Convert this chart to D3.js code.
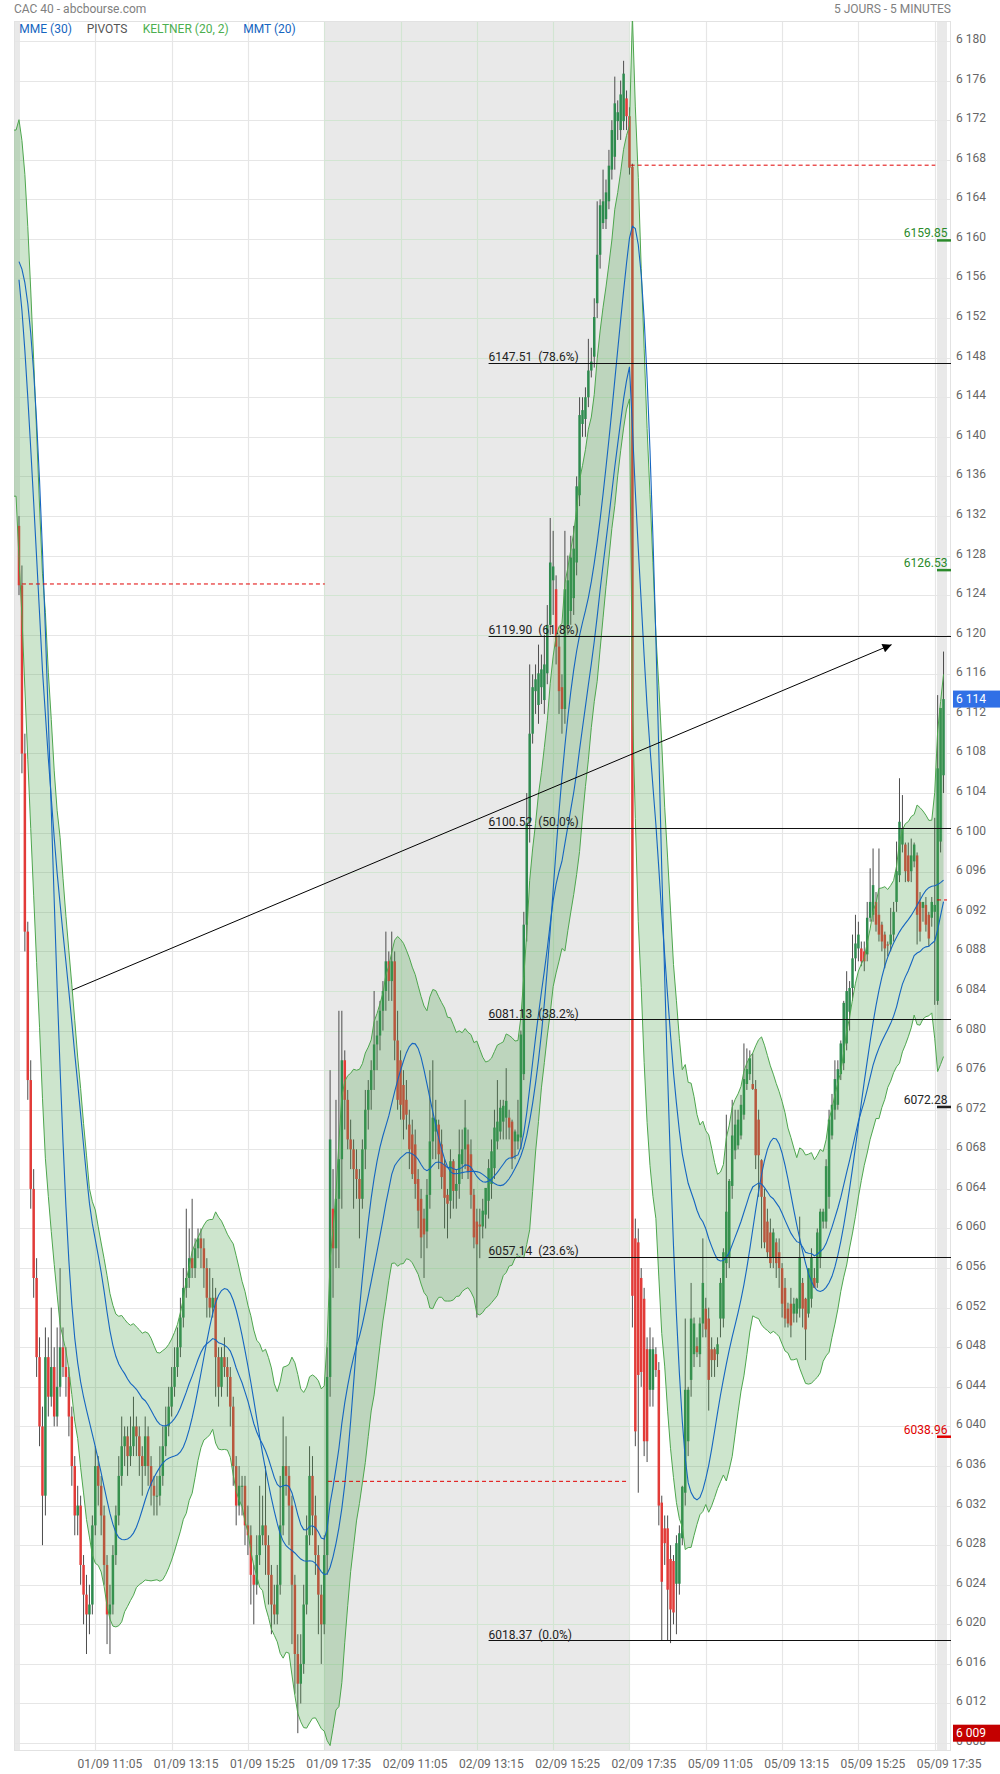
<!DOCTYPE html>
<html><head><meta charset="utf-8">
<script src="https://cdn.jsdelivr.net/npm/d3@7"></script>
<style>
body{margin:0;background:#fff;}
svg text{font-family:Roboto,"Noto Sans",sans-serif;}
</style></head><body>
<svg id="chart" width="1000" height="1774"></svg>
<script>
// ---------- DATA ----------
// [open, high, low, close] per 5-minute candle
const day1 = [
[6131,6132,6124,6125],[6125,6127,6106,6108],[6108,6110,6088,6090],[6090,6091,6073,6075],[6075,6077,6062,6064],
[6064,6066,6053,6055],[6055,6057,6045,6047],[6047,6049,6038,6040],[6040,6042,6028,6033],[6033,6050,6031,6047],
[6047,6049,6041,6043],[6043,6052,6042,6046],[6046,6048,6040,6041],[6041,6050,6040,6044],[6044,6056,6043,6048],
[6048,6050,6045,6046],[6046,6048,6043,6045],[6045,6046,6039,6041],[6041,6042,6034,6036],[6036,6037,6029,6031],
[6031,6034,6029,6032],[6032,6033,6024,6026],[6026,6027,6020,6023],[6023,6025,6017,6021],[6021,6024,6019,6022],
[6022,6031,6021,6030],[6030,6038,6029,6036],[6036,6037,6032,6034],[6034,6035,6029,6031],[6031,6032,6024,6026],
[6026,6027,6018,6021],[6021,6024,6017,6022],[6022,6028,6021,6027],[6027,6032,6026,6031],[6031,6037,6030,6035],
[6035,6041,6034,6038],[6038,6040,6036,6039],[6039,6040,6035,6037],[6037,6041,6036,6038],[6038,6043,6037,6040],
[6040,6041,6037,6039],[6039,6040,6035,6037],[6037,6038,6033,6036],[6036,6041,6035,6039],[6039,6040,6034,6036],
[6036,6037,6032,6034],[6034,6035,6031,6033],[6033,6035,6031,6033],[6033,6038,6032,6035],[6035,6040,6034,6038],
[6038,6042,6037,6040],[6040,6044,6039,6042],[6042,6046,6041,6044],[6044,6048,6043,6046],[6046,6050,6045,6048],
[6048,6053,6047,6051],[6051,6056,6050,6054],[6054,6062,6053,6055],[6055,6060,6054,6057],[6057,6063,6055,6056],
[6056,6059,6055,6058],[6058,6060,6057,6059],[6059,6060,6056,6058],[6058,6059,6054,6056],[6056,6057,6051,6053],
[6053,6056,6051,6052],[6052,6055,6051,6053],[6053,6054,6043,6047],[6047,6048,6042,6044],[6044,6048,6043,6047],
[6047,6049,6045,6046],[6046,6047,6043,6045],[6045,6046,6040,6042],[6042,6043,6034,6036],[6036,6037,6030,6032],
[6032,6036,6031,6034],[6034,6035,6031,6034],[6034,6035,6028,6030],[6030,6032,6027,6029],[6029,6030,6022,6025],
[6025,6026,6020,6024],[6024,6029,6023,6027],[6027,6034,6026,6029],[6029,6033,6028,6030],[6030,6036,6025,6028],
[6028,6029,6022,6025],[6025,6026,6019,6022],[6022,6024,6020,6021],[6021,6026,6020,6024],[6024,6035,6023,6030],
[6030,6041,6029,6036],[6036,6039,6033,6035],[6035,6036,6028,6032],[6032,6033,6018,6024],[6024,6025,6013,6017],
[6017,6019,6009,6014],[6014,6019,6012,6016],[6016,6024,6015,6022],[6022,6031,6021,6029],[6029,6038,6028,6035],
[6035,6037,6029,6031],[6031,6033,6025,6027],[6027,6028,6019,6023],[6023,6024,6016,6020],[6020,6029,6019,6027]
];
const day2 = [
[6027,6048,6025,6045],[6045,6076,6043,6069],[6062,6066,6053,6058],[6058,6073,6056,6063],[6063,6082,6056,6067],
[6067,6082,6062,6077],[6077,6078,6070,6073],[6073,6074,6068,6069],[6069,6071,6066,6068],[6068,6069,6062,6066],
[6066,6068,6063,6065],[6065,6066,6059,6063],[6063,6069,6062,6068],[6068,6074,6066,6072],[6072,6075,6070,6074],
[6074,6077,6072,6076],[6076,6084,6074,6078.6],[6078.6,6081,6076,6079.5],[6079.5,6083,6078,6082],[6082,6085,6080,6084],
[6084,6090,6082,6087],[6087,6088,6083,6085],[6085,6090,6083,6087],[6087,6088,6077,6079],[6079,6082,6072,6073],
[6077,6078,6071,6072.5],[6074.5,6076,6069,6071],[6073,6075,6070,6071.5],[6070.5,6072,6066,6068],[6069.5,6071,6065,6065.5],
[6068.5,6070,6063,6064.5],[6065,6066,6060,6061.8],[6063,6064,6057,6059.1],[6061,6062,6055,6059.4],[6059.7,6065,6058,6063.4],
[6063.4,6076,6062,6068.8],[6068.8,6077,6067,6071.2],[6069.8,6073,6067,6071],[6070.5,6071,6066,6067.5],[6068.5,6070,6064,6065.2],
[6066.5,6067,6060,6063.1],[6063.4,6064,6059,6062.5],[6062.8,6068,6061,6066.8],[6066.8,6067,6062,6063.8],[6063.8,6066,6062,6064.5],
[6064.5,6070,6063,6067.5],[6066.5,6070,6065,6068],[6068,6073,6066,6070.2],[6068.5,6070,6065,6065.8],[6067.5,6069,6062,6063.4],
[6063.4,6064,6058,6059.1],[6060.7,6062,6051,6058.4],[6060.4,6062,6057,6060.2],[6060.2,6063,6059,6061.8],[6061.4,6064,6060,6064.1],
[6062.8,6067,6061,6066.1],[6064.5,6069,6063,6067.8],[6066.1,6072,6065,6070.2],[6068.8,6075,6068,6070.8],[6069.8,6073,6069,6072.2],
[6070.8,6073,6069,6072.4],[6071.2,6076.2,6069,6072.9],[6071.2,6072,6069,6070.2],[6070.8,6071,6066,6067.1],[6068.8,6070,6067,6069.8],
[6068.8,6073,6068,6069.5],[6069.2,6080,6068,6079.6],[6075.6,6092,6075,6090.7],[6090.7,6104,6089,6101],[6101,6117,6099,6110],
[6110,6116,6109,6114.7],[6114.3,6117,6112,6115.5],[6112.9,6119,6111,6116.1],[6114.7,6118,6113,6116.5],[6113.4,6120,6112,6117],
[6116.1,6123,6115,6121],[6121,6131.8,6120,6127.3],[6125.5,6130.5,6122,6126.9],[6124.6,6126,6117,6118.8],[6118.8,6120,6112,6114.3],
[6114.7,6116,6110,6112.5],[6112.5,6130.5,6111,6124.6],[6121,6128,6120,6125.5],[6122.4,6130,6121,6127.8],[6123.7,6131,6122,6128.7],
[6127.3,6136,6126,6135],[6134.1,6144,6133,6142.2],[6141.3,6144,6140,6142.7],[6141.8,6145,6140,6144],[6144,6149.9,6143,6146.7],
[6146.7,6149,6146,6147.6],[6148.1,6154,6147,6152.1],[6153.5,6163.8,6152,6158.4],[6158.4,6164,6157,6163.4],[6161.6,6167,6161,6163.8],
[6162,6166,6161,6164.7],[6163.8,6169,6163,6167.4],[6167,6172,6166,6171],[6168.3,6176.4,6167,6173.7],[6171.9,6174,6170,6172.8],
[6171,6176,6170,6174.6],[6171.9,6178,6171,6176.7],[6174.2,6175,6171,6172.4],[6172.4,6173.3,6166.5,6167.2]
];
const day3 = [
[6167.3,6167.6,6050,6053.2],[6059,6061,6038,6039.5],[6058.6,6060,6033.3,6045.2],[6055,6056,6044,6045.5],[6052.9,6054,6037,6038.5],
[6047.8,6049,6036.4,6038.5],[6043.7,6050,6042,6047.8],[6043.7,6049,6042,6047.8],[6047.3,6048,6045,6045.7],[6045.7,6046.5,6030,6032],
[6032.3,6033,6018.4,6024.3],[6029.7,6031,6026,6028.2],[6029.7,6031,6018.4,6023.5],[6026.6,6028,6018.1,6021.5],[6026.4,6027,6020,6021.2],
[6024.1,6029,6019,6028.2],[6024.1,6030,6023,6029.2],[6028.7,6034,6028,6033.9],[6033.3,6050.9,6032,6043.7],[6038.5,6044,6037,6043.7],
[6044.7,6054.5,6043,6050.9],[6047.3,6051,6046,6050.4],[6048.1,6049,6047,6047.5],[6047.3,6051,6046,6050.4],[6050.4,6059,6049,6054.5],
[6051.9,6053,6049,6049.8],[6050.9,6052,6041.6,6044.7],[6047.8,6049,6045,6046.7],[6047.8,6048,6045,6046.7],[6047.3,6049,6046,6048.3],
[6050.9,6055,6049,6054.5],[6050.9,6058,6050,6057.6],[6056.5,6071.5,6055,6061.7],[6057.1,6065,6056,6064.8],[6064.3,6073,6063,6069.4],
[6067.9,6072,6067,6070.5],[6068.4,6072,6068,6071],[6069.4,6073.5,6069,6072.5],[6071.5,6078.7,6071,6075.1],[6074.6,6078.2,6074,6076.1],
[6075.6,6078,6075,6077.2],[6074.6,6077.7,6074,6074.1],[6074.1,6075,6066,6067.4],[6071,6072,6063.2,6067.4],[6066.9,6067,6058,6063.2],
[6063.2,6064,6058,6058.6],[6060.7,6062,6057,6057.6],[6059.6,6061,6056,6056.5],[6057.1,6060,6056,6059.6],[6058.6,6059,6055,6056.5],
[6057.6,6059,6054,6056],[6056,6056.5,6051,6052.4],[6054,6055,6050,6050.9],[6051.9,6052.5,6050,6050.4],[6052.4,6054,6049,6050.2],
[6051.4,6053,6050.5,6052.4],[6051.4,6053,6050.5,6052.9],[6051.9,6061.2,6051,6057.1],[6054.5,6055,6050,6051.9],[6052.9,6053,6046.7,6049.8],
[6051.4,6056,6051,6056],[6052.9,6058,6052,6057.1],[6055,6056,6054,6054],[6054.5,6060,6054,6059.6],[6057.1,6062,6056,6061.7],
[6060.7,6062,6060,6061.7],[6060.7,6067,6060,6066.3],[6063.2,6072,6062,6071],[6069.4,6073.6,6069,6072.5],[6072,6077,6071,6075.1],
[6072.5,6077,6072,6076.1],[6075.6,6079,6075,6078.7],[6076.7,6083,6076,6082.8],[6078.7,6086,6078,6084],
[6081.9,6085,6080,6084.3],[6084.3,6089.7,6083,6087.3],[6087.3,6091.7,6086,6088.8],[6088.3,6091,6087,6089.7],[6088.3,6089,6086.5,6087],
[6088,6089,6086,6087],[6087.7,6093,6087,6091.4],[6091.4,6096.4,6091,6093],[6091.7,6098.4,6091,6094.7],[6093,6094,6090,6090.7],
[6091.7,6098.4,6089,6089.7],[6090.7,6091,6088,6089],[6089.7,6090,6086.3,6088.3],[6088.7,6089,6087.5,6088.6],[6088.7,6092.4,6088,6089.7],
[6089.7,6093,6089,6092],[6093,6099.1,6092,6096.1],[6095.7,6105.5,6095,6101.1],[6098.8,6103.8,6098,6100.4],[6098.8,6099,6095,6096.1],
[6097.7,6099,6095,6095.1],[6096.1,6099.4,6095,6097.7],[6097.1,6099,6096.5,6098.8],[6097.7,6098,6088.7,6091.7],[6093,6094,6089,6090],
[6092.4,6093,6091,6093],[6092.7,6093.5,6090,6090.7],[6091.7,6092,6088.5,6089.3],[6091.4,6093.5,6090.5,6093],[6092,6101.5,6082.6,6092.7],
[6083,6113.9,6082.6,6106.5],[6099.1,6112.6,6098,6112.6],[6105.8,6118.3,6104,6113.5]
];
// indicator state carried over from the previous session (read from the left edge)
const seedKeltnerUpper = 6171, seedKeltnerLower = 6134;
const seedMME = 6158, seedMMT = 6158;

const tickIndex = [26,52,78,104,130,156,182,208,234,260,286,312];
const tickLabels = ["01/09 11:05","01/09 13:15","01/09 15:25","01/09 17:35","02/09 11:05","02/09 13:15",
                    "02/09 15:25","02/09 17:35","05/09 11:05","05/09 13:15","05/09 15:25","05/09 17:35"];
const priceTicks = d3.range(6008, 6181, 4);

const fibLevels = [6147.51, 6119.90, 6100.52, 6081.13, 6057.14, 6018.37];
const fibPct = ["78.6%","61.8%","50.0%","38.2%","23.6%","0.0%"];
const fibStart = 160;

const pivotLevels = [6159.85, 6126.53, 6072.28, 6038.96];
const pivotColors = ["#2a8a2a","#2a8a2a","#222","#e00000"];
// daily pivot dashed segments [fromIndex, toIndex, level]
const dailyPivots = [[1,104.2,6125.13],[105.3,207.7,6034.45],[208.4,312.2,6167.45],[312.8,316.2,6093.2]];
// trend arrow [index, price]
const arrowFrom = [18.2, 6084.1], arrowTo = [297.3, 6119.0];
// shaded session areas [fromIndex, toIndex]
const shaded = [[-1.7,0.35],[104,208],[312.8,316.2]];

// ---------- BUILD ----------
const candles = [...day1, ...day2, ...day3].map((d,i)=>({i, o:d[0], h:d[1], l:d[2], c:d[3]}));

// Keltner (20,2): EMA20 of close +/- 2 * EMA20 of true range
const seedMid = (seedKeltnerUpper+seedKeltnerLower)/2, seedAtr = (seedKeltnerUpper-seedKeltnerLower)/4;
let mid = seedMid, atr = seedAtr, prevC = seedMid;
const kk = 2/21;
const kelt = [{i:-1.7, up:seedKeltnerUpper, lo:seedKeltnerLower},{i:-1, up:seedKeltnerUpper, lo:seedKeltnerLower}];
candles.forEach(d=>{
  const tr = Math.max(d.h-d.l, Math.abs(d.h-prevC), Math.abs(d.l-prevC));
  atr += kk*(tr-atr); mid += kk*(d.c-mid); prevC = d.c;
  kelt.push({i:d.i, up:mid+2*atr, lo:mid-2*atr});
});
// MME(30)
let e = seedMME; const ke = 2/31;
const mme = candles.map(d=>{ e += ke*(d.c-e); return {i:d.i, v:e}; });
// MMT(20) triangular: SMA10 of SMA11
const closeAt = k => k<0 ? seedMMT : candles[k].c;
const sma11 = k => { let s=0; for(let j=k-10;j<=k;j++) s+=closeAt(j); return s/11; };
const sma11At = k => k<0 ? seedMMT : sma11(k);
const mmt = candles.map(d=>{ let s=0; for(let j=d.i-9;j<=d.i;j++) s+=sma11At(j); return {i:d.i, v:s/10}; });

// ---------- SCALES ----------
const P = {l:14, r:951, t:21, b:1751};
const x = d3.scaleLinear().domain([-1.7, 317.55]).range([P.l, P.r]);
const y = d3.scaleLinear().domain([6007.2, 6182.02]).range([P.b, P.t]);
const fmt = d3.formatLocale({decimal:".", thousands:" ", grouping:[3], currency:["",""]}).format(",d");

const svg = d3.select("#chart");
svg.append("rect").attr("width",1000).attr("height",1774).attr("fill","#fff");
const defs = svg.append("defs");
defs.append("clipPath").attr("id","plotClip").append("rect")
  .attr("x",P.l).attr("y",P.t).attr("width",P.r-P.l).attr("height",P.b-P.t);
defs.append("clipPath").attr("id","bandClip").append("rect")
  .attr("x",x(shaded[1][0])).attr("y",P.t).attr("width",x(shaded[1][1])-x(shaded[1][0])).attr("height",P.b-P.t);
defs.append("marker").attr("id","ah").attr("viewBox","0 0 10 10").attr("refX",10).attr("refY",5)
  .attr("markerWidth",12).attr("markerHeight",9).attr("markerUnits","userSpaceOnUse").attr("orient","auto")
  .append("path").attr("d","M0,0L10,5L0,10z").attr("fill","#000");

// shaded sessions
svg.append("g").selectAll("rect").data(shaded).join("rect")
  .attr("x",d=>x(d[0])).attr("width",d=>x(d[1])-x(d[0])).attr("y",P.t).attr("height",P.b-P.t).attr("fill","#e9e9e9");

// grid
function grid(g, color){
  g.selectAll("line.h").data(priceTicks).join("line").attr("class","h")
    .attr("x1",P.l).attr("x2",P.r).attr("y1",d=>Math.round(y(d))+0.5).attr("y2",d=>Math.round(y(d))+0.5)
    .attr("stroke",color).attr("stroke-width",1);
  g.selectAll("line.v").data(tickIndex).join("line").attr("class","v")
    .attr("y1",P.t).attr("y2",P.b).attr("x1",d=>Math.round(x(d))+0.5).attr("x2",d=>Math.round(x(d))+0.5)
    .attr("stroke",color).attr("stroke-width",1.2);
}
grid(svg.append("g"), "#e6e6e6");
grid(svg.append("g").attr("clip-path","url(#bandClip)"), "#d2e5d2");
svg.append("rect").attr("x",P.l+0.5).attr("y",P.t+0.5).attr("width",P.r-P.l-1).attr("height",P.b-P.t-1)
  .attr("fill","none").attr("stroke","#e2e2e2");

const plot = svg.append("g").attr("clip-path","url(#plotClip)");

// candles
const upC = "#2e8b4f", dnC = "#e23b38";
plot.append("g").selectAll("line").data(candles).join("line")
  .attr("x1",d=>x(d.i)).attr("x2",d=>x(d.i)).attr("y1",d=>y(d.h)).attr("y2",d=>y(d.l))
  .attr("stroke","#4d4d4d").attr("stroke-width",1);
plot.append("g").selectAll("rect").data(candles).join("rect")
  .attr("x",d=>x(d.i)-1.25).attr("width",2.5)
  .attr("y",d=>y(Math.max(d.o,d.c)))
  .attr("height",d=>Math.max(1, Math.abs(y(d.o)-y(d.c))))
  .attr("fill",d=>d.c>=d.o?upC:dnC);

// Keltner
plot.append("path").datum(kelt)
  .attr("d", d3.area().x(d=>x(d.i)).y0(d=>y(d.lo)).y1(d=>y(d.up)))
  .attr("fill","rgba(76,160,76,0.28)");
["up","lo"].forEach(k=>{
  plot.append("path").datum(kelt).attr("d", d3.line().x(d=>x(d.i)).y(d=>y(d[k])))
    .attr("fill","none").attr("stroke","#4ea64e").attr("stroke-width",1);
});
// moving averages
[mme, mmt].forEach(s=>{
  plot.append("path").datum(s).attr("d", d3.line().x(d=>x(d.i)).y(d=>y(d.v)))
    .attr("fill","none").attr("stroke","#1565c0").attr("stroke-width",1.1);
});

// daily pivots (dashed red)
plot.append("g").selectAll("line").data(dailyPivots).join("line")
  .attr("x1",d=>x(d[0])).attr("x2",d=>x(d[1])).attr("y1",d=>y(d[2])).attr("y2",d=>y(d[2]))
  .attr("stroke","#e00000").attr("stroke-width",1).attr("stroke-dasharray","4,3");

// fibonacci
const fg = svg.append("g");
fg.selectAll("line").data(fibLevels).join("line")
  .attr("x1",x(fibStart)).attr("x2",P.r).attr("y1",d=>Math.round(y(d))+0.5).attr("y2",d=>Math.round(y(d))+0.5)
  .attr("stroke","#111").attr("stroke-width",1);
fg.selectAll("text").data(fibLevels).join("text")
  .attr("x",x(fibStart)).attr("y",d=>y(d)-1.5)
  .style("white-space","pre").attr("font-size",12).attr("fill","#222")
  .text((d,i)=>d.toFixed(2)+"  ("+fibPct[i]+")");

// arrow
svg.append("line").attr("x1",x(arrowFrom[0])).attr("y1",y(arrowFrom[1]))
  .attr("x2",x(arrowTo[0])).attr("y2",y(arrowTo[1]))
  .attr("stroke","#000").attr("stroke-width",1).attr("marker-end","url(#ah)");

// pivot level labels on the right
const pg = svg.append("g");
pivotLevels.forEach((v,i)=>{
  pg.append("text").attr("x",947.5).attr("y",y(v)-3).attr("text-anchor","end")
    .attr("font-size",12).attr("fill",pivotColors[i]).text(v.toFixed(2));
  pg.append("line").attr("x1",937).attr("x2",951).attr("y1",y(v)).attr("y2",y(v))
    .attr("stroke",pivotColors[i]).attr("stroke-width",2.5);
});

// right axis
svg.append("g").selectAll("text").data(priceTicks).join("text")
  .attr("x",956).attr("y",d=>y(d)+2).attr("font-size",12).attr("fill","#666").text(d=>fmt(d));

// bottom axis
svg.append("g").selectAll("text").data(tickIndex).join("text")
  .attr("x",d=>x(d)+14.5).attr("y",1767.5).attr("text-anchor","middle")
  .attr("font-size",12).attr("fill","#666").text((d,i)=>tickLabels[i]);

// price boxes
const last = candles[candles.length-1].c;
const lowest = d3.min(candles, d=>d.l);
[[last,"#3170e6"],[lowest,"#c40000"]].forEach(([v,col])=>{
  svg.append("rect").attr("x",953).attr("y",y(v)-8.5).attr("width",47).attr("height",17).attr("fill",col);
  svg.append("text").attr("x",956).attr("y",y(v)+4.3).attr("font-size",12).attr("fill","#fff").text(fmt(Math.round(v)));
});

// header & legend
svg.append("text").attr("x",14).attr("y",13).attr("font-size",12).attr("fill","#808080").text("CAC 40 - abcbourse.com");
svg.append("text").attr("x",951).attr("y",13).attr("text-anchor","end").attr("font-size",12).attr("fill","#808080").text("5 JOURS - 5 MINUTES");
const legend = [["MME (30)","#1565c0",19.3],["PIVOTS","#555",86.7],["KELTNER (20, 2)","#4caf50",142.7],["MMT (20)","#1565c0",243.3]];
svg.append("g").selectAll("text").data(legend).join("text")
  .attr("x",d=>d[2]).attr("y",33).attr("font-size",12).attr("fill",d=>d[1]).text(d=>d[0]);
</script>
</body></html>
